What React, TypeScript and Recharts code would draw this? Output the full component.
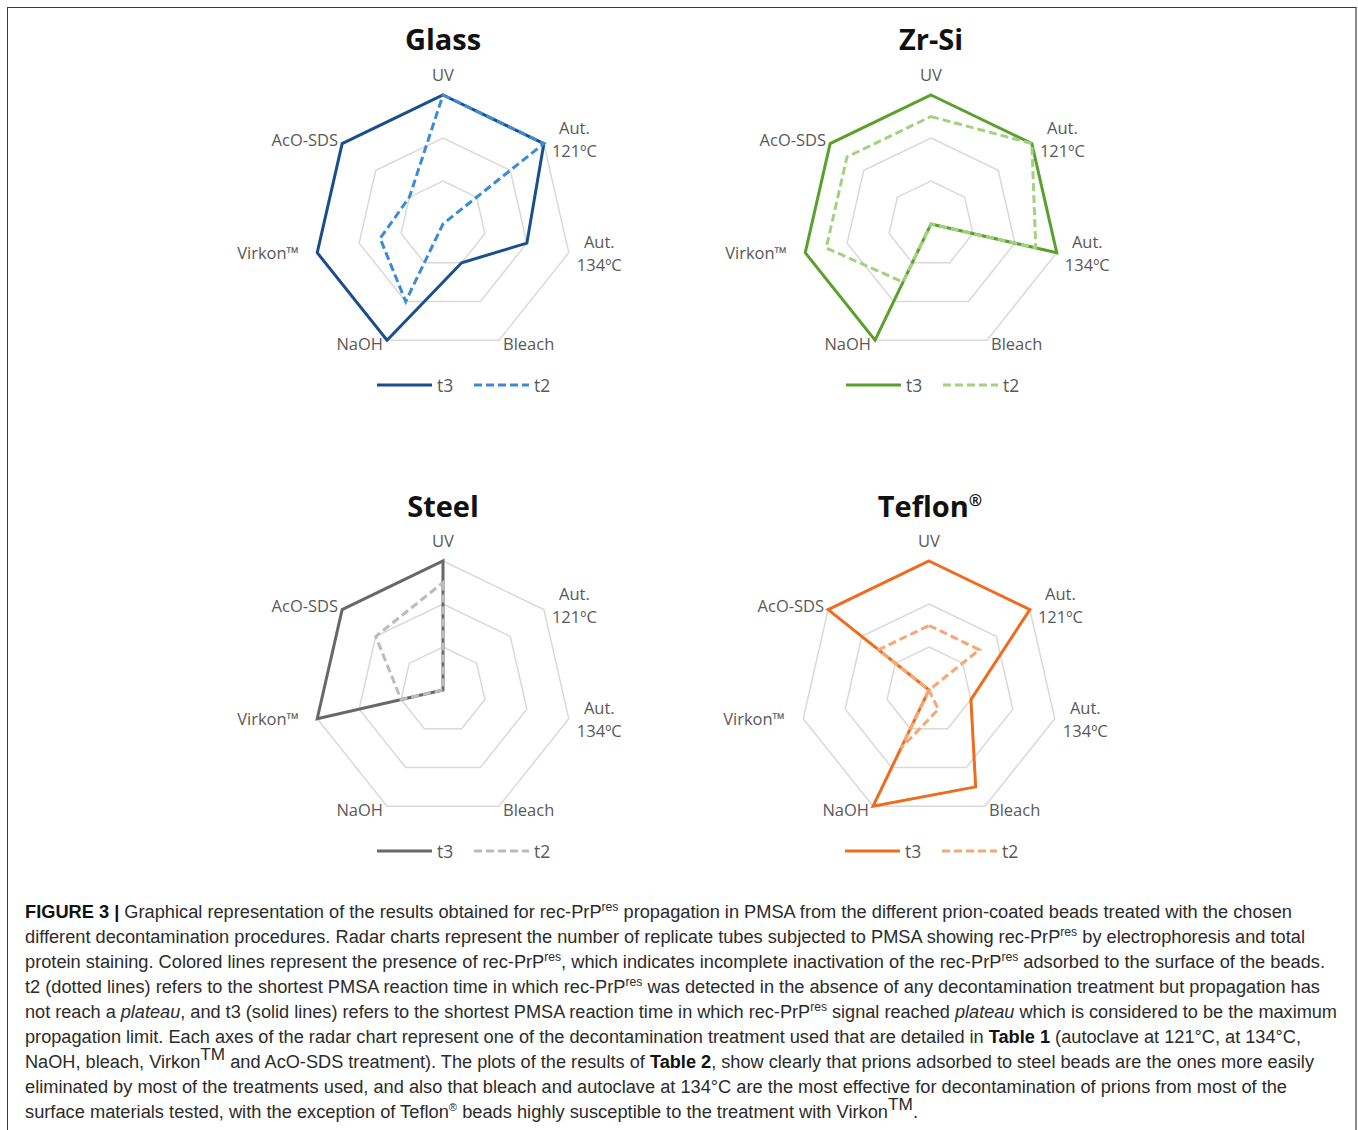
import React from "react";
import {
  RadarChart,
  Radar,
  PolarGrid,
  PolarAngleAxis,
  PolarRadiusAxis,
  Legend,
} from "recharts";

// axes of every radar, clockwise from the top
const TREATMENTS = ["UV", "Aut. 121ºC", "Aut. 134ºC", "Bleach", "NaOH", "Virkon™", "AcO-SDS"];
const SERIES = ["t3", "t2"];
const RADIUS_DOMAIN = [0, 6];

// positive replicate tubes: t3 (solid) and t2 (dashed)
const GLASS_T3 = [6, 6, 4, 2, 6, 6, 6];
const GLASS_T2 = [6, 6, 0, 0, 4, 3, 2];
const ZRSI_T3 = [6, 6, 6, 0, 6, 6, 6];
const ZRSI_T2 = [5, 6, 5, 0, 3, 5, 5];
const STEEL_T3 = [6, 0, 0, 0, 0, 6, 6];
const STEEL_T2 = [5, 0, 0, 0, 0, 2, 4];
const TEFLON_T3 = [6, 6, 2, 5, 6, 0, 6];
const TEFLON_T2 = [3, 3, 0, 1, 3, 0, 3];

type Seg = [string, string?];

const CAPTION: Seg[][] = [
  [["FIGURE 3 |", "b"], [" Graphical representation of the results obtained for rec-PrP"], ["res", "sup"], [" propagation in PMSA from the different prion-coated beads treated with the chosen"]],
  [["different decontamination procedures. Radar charts represent the number of replicate tubes subjected to PMSA showing rec-PrP"], ["res", "sup"], [" by electrophoresis and total"]],
  [["protein staining. Colored lines represent the presence of rec-PrP"], ["res", "sup"], [", which indicates incomplete inactivation of the rec-PrP"], ["res", "sup"], [" adsorbed to the surface of the beads."]],
  [["t2 (dotted lines) refers to the shortest PMSA reaction time in which rec-PrP"], ["res", "sup"], [" was detected in the absence of any decontamination treatment but propagation has"]],
  [["not reach a "], ["plateau", "i"], [", and t3 (solid lines) refers to the shortest PMSA reaction time in which rec-PrP"], ["res", "sup"], [" signal reached "], ["plateau", "i"], [" which is considered to be the maximum"]],
  [["propagation limit. Each axes of the radar chart represent one of the decontamination treatment used that are detailed in "], ["Table 1", "b"], [" (autoclave at 121°C, at 134°C,"]],
  [["NaOH, bleach, Virkon"], ["TM", "tm"], [" and AcO-SDS treatment). The plots of the results of "], ["Table 2", "b"], [", show clearly that prions adsorbed to steel beads are the ones more easily"]],
  [["eliminated by most of the treatments used, and also that bleach and autoclave at 134°C are the most effective for decontamination of prions from most of the"]],
  [["surface materials tested, with the exception of Teflon"], ["®", "reg"], [" beads highly susceptible to the treatment with Virkon"], ["TM", "tm"], ["."]],
];
const CAPTION_ENDS = [1292, 1305, 1325, 1320, 1337, 1301, 1314, 1287, 918];

const W = 520;
const H = 370;
const CX = 260;
const CY = 175;
const R = 129;
const LABEL_FONT = "'Open Sans', sans-serif";

const AngleTick = (props: any) => {
  const { x, y, cx, cy, payload } = props;
  const dx = x - cx;
  const dy = y - cy;
  const d = Math.hypot(dx, dy) || 1;
  const ux = dx / d;
  const uy = dy / d;
  const vx = cx + ux * R;
  const vy = cy + uy * R;
  const lines = String(payload.value).split(" ");
  let anchor = "middle";
  let tx = vx;
  let first = vy - 14;
  if (Math.abs(ux) > 0.1) {
    const side = Math.sign(ux);
    const gap = payload.value === "Virkon™" ? 18 : 4;
    if (lines.length > 1) {
      // wrapped labels are centred as a block next to the vertex
      tx = vx + side * 30.5;
    } else {
      anchor = side > 0 ? "start" : "end";
      tx = vx + side * gap;
    }
    const mid = vy + 5 * uy;
    first = mid - ((lines.length - 1) * 23) / 2 + 5.5;
  }
  return (
    <text x={tx} y={first} textAnchor={anchor} fill="#595959" fontSize={16.5} fontFamily={LABEL_FONT}>
      {lines.map((l, i) => (
        <tspan key={i} x={tx} dy={i === 0 ? 0 : 23}>
          {l}
        </tspan>
      ))}
    </text>
  );
};

const LegendContent = (props: any) => {
  const payload: any[] = props.payload ?? [];
  const items = SERIES.map((name) => payload.find((e) => e.value === name)).filter(Boolean);
  return (
    <svg width={200} height={24} style={{ display: "block" }}>
      {items.map((e: any, i: number) => {
        const x0 = i * 97;
        return (
          <g key={e.value}>
            <line x1={x0} x2={x0 + 55} y1={12} y2={12} stroke={e.color} strokeWidth={3}
              strokeDasharray={e.payload?.strokeDasharray} />
            <text x={x0 + 60} y={18.5} fill="#595959" fontSize={17.5} fontFamily={LABEL_FONT}>
              {e.value}
            </text>
          </g>
        );
      })}
    </svg>
  );
};

type PanelProps = {
  t3: number[];
  t2: number[];
  c3: string;
  c2: string;
  x: number;
  y: number;
  legendX: number;
};

const Panel = ({ t3, t2, c3, c2, x, y, legendX }: PanelProps) => {
  const data = TREATMENTS.map((name, i) => ({ name, t3: t3[i], t2: t2[i] }));
  return (
    <div style={{ position: "absolute", left: x - 8 - CX, top: y - 8 - CY }}>
      <RadarChart width={W} height={H} data={data} cx={CX} cy={CY} outerRadius={R}
        margin={{ top: 0, right: 0, bottom: 0, left: 0 }}>
        <PolarGrid gridType="polygon" radialLines={false} stroke="#d9d9d9" strokeWidth={1.5} />
        <PolarRadiusAxis domain={RADIUS_DOMAIN} tickCount={4} tick={false} axisLine={false} />
        <PolarAngleAxis dataKey="name" tick={AngleTick} tickLine={false} axisLine={false} />
        <Radar name="t3" dataKey="t3" stroke={c3} strokeWidth={3} fill="none" fillOpacity={0}
          dot={false} legendType="plainline" isAnimationActive={false} />
        <Radar name="t2" dataKey="t2" stroke={c2} strokeWidth={3} strokeDasharray="8 4" fill="none"
          fillOpacity={0} dot={false} legendType="plainline" isAnimationActive={false} />
        <Legend content={LegendContent}
          wrapperStyle={{ left: legendX - (x - CX), top: CY + 149, width: 200, height: 24 }} />
      </RadarChart>
    </div>
  );
};

const supStyle: Record<string, { size: number; shift: number }> = {
  sup: { size: 12, shift: -7 },
  tm: { size: 17, shift: -8 },
  reg: { size: 11, shift: -7 },
};

const CaptionLine = ({ segs, y, end }: { segs: Seg[]; y: number; end: number }) => {
  let shift = 0;
  return (
    <text x={25} y={y} textLength={end - 25} lengthAdjust="spacingAndGlyphs" fontSize={18}
      fontFamily="'Liberation Sans', Arial, sans-serif" fill="#2b2b2b">
      {segs.map(([t, k], i) => {
        const s = k ? supStyle[k] : undefined;
        const target = s ? s.shift : 0;
        const dy = target - shift;
        shift = target;
        return (
          <tspan key={i} dy={dy || undefined} fontSize={s ? s.size : undefined}
            fontWeight={k === "b" ? 700 : undefined} fontStyle={k === "i" ? "italic" : undefined}
            fill={k === "b" ? "#111" : undefined}>
            {t}
          </tspan>
        );
      })}
    </text>
  );
};

const TITLE_FONT = "'Open Sans', sans-serif";

export default function App() {
  return (
    <div style={{
      position: "absolute", left: 7, top: 7, width: 1347, height: 1140, background: "#fff",
      borderTop: "1px solid #3a3a3a", borderLeft: "1px solid #3a3a3a", borderRight: "2px solid #8a8a8a",
    }}>
      <Panel t3={GLASS_T3} t2={GLASS_T2} c3="#1a4f8b" c2="#3b8bd8" x={443} y={224} legendX={377} />
      <Panel t3={ZRSI_T3} t2={ZRSI_T2} c3="#5aa02c" c2="#a3d27f" x={931} y={224} legendX={846} />
      <Panel t3={STEEL_T3} t2={STEEL_T2} c3="#686868" c2="#bcbcbc" x={443} y={690} legendX={377} />
      <Panel t3={TEFLON_T3} t2={TEFLON_T2} c3="#ef6c1f" c2="#f5a875" x={929} y={690} legendX={845} />
      <svg width={1358} height={1140} style={{ position: "absolute", left: -8, top: -8, pointerEvents: "none" }}>
        <g fontFamily={TITLE_FONT} fontWeight={700} fontSize={29} fill="#111" textAnchor="middle">
          <text x={443} y={50}>Glass</text>
          <text x={931} y={50}>Zr-Si</text>
          <text x={443} y={517}>Steel</text>
          <text x={930} y={517}>
            Teflon<tspan fontSize={16} dy={-11}>®</tspan>
          </text>
        </g>
        {CAPTION.map((segs, i) => (
          <CaptionLine key={i} segs={segs} y={918 + i * 25} end={CAPTION_ENDS[i]} />
        ))}
      </svg>
    </div>
  );
}
